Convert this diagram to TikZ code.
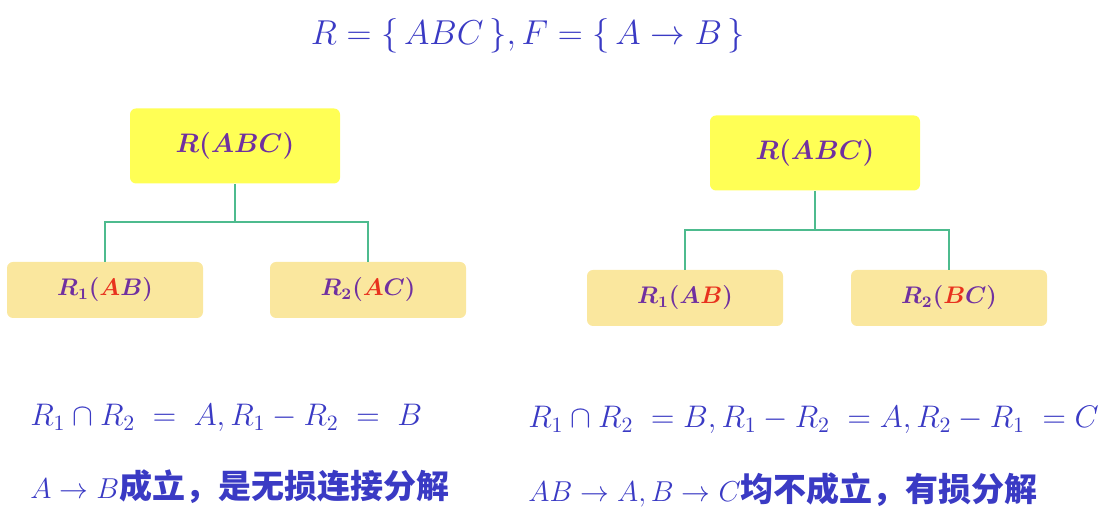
\RequirePackage{fix-cm}
\documentclass[tikz,border=0pt]{standalone}
\usepackage{fontspec}
\newfontfamily\cjk{Noto Sans CJK SC}
\usetikzlibrary{positioning}
\definecolor{txtblue}{HTML}{3A3AC4}
\definecolor{txtpurple}{HTML}{7030A0}
\definecolor{keyred}{HTML}{E8321E}
\definecolor{rootfill}{HTML}{FFFF55}
\definecolor{partfill}{HTML}{FAE79E}
\definecolor{linkgreen}{HTML}{4DBB8E}
\newcommand{\hl}[1]{\textcolor{keyred}{#1}}
\newcommand{\zh}[1]{{\cjk\bfseries\fontsize{16.5}{18}\selectfont #1}}
\tikzset{
  rootbox/.style={
    rectangle,
    rounded corners=3pt,
    fill=rootfill,
    inner sep=0pt,
    minimum width=105pt,
    minimum height=37.5pt,
    text=txtpurple,
    font=\fontsize{13.4}{15}\selectfont\boldmath
  },
  partbox/.style={
    rectangle,
    rounded corners=3pt,
    fill=partfill,
    inner sep=0pt,
    minimum width=98pt,
    minimum height=28pt,
    text=txtpurple,
    font=\fontsize{12}{14}\selectfont\boldmath
  },
  link/.style={draw=linkgreen, line width=1.2pt},
  formula/.style={text=txtblue, inner sep=0pt, font=\fontsize{17.28}{20}\selectfont},
  remark/.style={text=txtblue, inner sep=0pt, anchor=west, font=\fontsize{15.6}{17}\selectfont}
}

\begin{document}
\begin{tikzpicture}[x=0.5pt,y=-0.5pt]
\useasboundingbox (0,0) rectangle (1108,522);

\node[formula] (title) at (528,36) {$R=\{\,ABC\,\},F=\{\,A\rightarrow B\,\}$};

\node[rootbox] (rootL) at (235,146) {$R(ABC)$};
\node[partbox] (l1) at (105,290) {$R_1(\hl{A}B)$};
\node[partbox] (l2) at (368,290) {$R_2(\hl{A}C)$};
\coordinate (jL) at (235,222);

\node[rootbox] (rootR) at (815,153) {$R(ABC)$};
\node[partbox] (r1) at (685,298) {$R_1(A\hl{B})$};
\node[partbox] (r2) at (949,298) {$R_2(\hl{B}C)$};
\coordinate (jR) at (815,230);

\draw[link] (rootL.south) -- (jL) -| (l1.north);
\draw[link] (jL) -| (l2.north);
\draw[link] (rootR.south) -- (jR) -| (r1.north);
\draw[link] (jR) -| (r2.north);

\node[remark] (setsL) at (30,418) {$R_1\cap R_2\;=\;A,R_1-R_2\;=\;B$};
\node[remark, font=\fontsize{14.4}{17}\selectfont] (ruleL) at (30,487) {$A\rightarrow B$\zh{成立，是无损连接分解}};
\node[remark] (setsR) at (528,420) {$R_1\cap R_2\;=B,R_1-R_2\;=A,R_2-R_1\;=C$};
\node[remark, font=\fontsize{14.4}{17}\selectfont] (ruleR) at (528,490) {$AB\rightarrow A,B\rightarrow C$\zh{均不成立，有损分解}};
\end{tikzpicture}
\end{document}
